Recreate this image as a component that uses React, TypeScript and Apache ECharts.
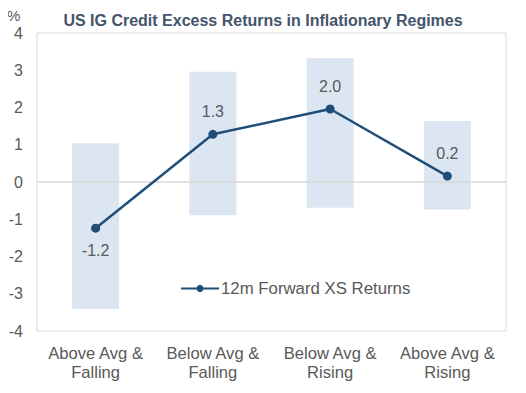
import React, { useEffect, useRef } from "react";
import * as echarts from "echarts";

const categories = ["Above Avg &\nFalling", "Below Avg &\nFalling", "Below Avg &\nRising", "Above Avg &\nRising"];
const rangeHigh = [1.04, 2.96, 3.33, 1.64];
const rangeLow = [-3.41, -0.89, -0.69, -0.74];
const xsReturns = [-1.24, 1.28, 1.96, 0.16];
const yTicks = [-4, -3, -2, -1, 0, 1, 2, 3, 4];

const FONT = "'Liberation Sans', Arial, sans-serif";
const BAR = "#dce6f2";
const LINE = "#1f4e79";
const TXT = "#595959";

export default function App() {
  const ref = useRef<HTMLDivElement>(null);
  useEffect(() => {
    if (!ref.current) return;
    const chart = echarts.init(ref.current, null, { renderer: "svg" });
    chart.setOption({
      animation: false,
      backgroundColor: "#ffffff",
      textStyle: { fontFamily: FONT },
      title: {
        text: "US IG Credit Excess Returns in Inflationary Regimes",
        left: 258,
        textAlign: "center",
        top: 7,
        textStyle: {
          fontFamily: "'Liberation Sans Narrow', 'Arial Narrow', 'Liberation Sans', sans-serif",
          fontWeight: "bold",
          fontSize: 16,
          color: "#44546a",
        },
      },
      graphic: [
        {
          type: "text",
          left: 7,
          top: 8,
          style: { text: "%", fontFamily: FONT, fontSize: 15, fill: TXT },
        },
      ],
      legend: {
        data: ["12m Forward XS Returns"],
        left: 175,
        top: 275,
        itemWidth: 38,
        itemHeight: 9,
        itemGap: 2,
        textStyle: { fontFamily: FONT, fontSize: 16.8, color: TXT, padding: [0, 0, 0, -3] },
      },
      grid: {
        left: 37,
        right: 20,
        top: 33,
        bottom: 62,
        show: true,
        borderColor: "#d9d9d9",
        borderWidth: 1,
      },
      xAxis: {
        type: "category",
        data: categories,
        axisLine: { show: false },
        axisTick: { show: false },
        axisLabel: {
          color: TXT,
          fontSize: 16.6,
          fontFamily: FONT,
          lineHeight: 19,
          margin: 13,
          interval: 0,
        },
      },
      yAxis: {
        type: "value",
        min: yTicks[0],
        max: yTicks[yTicks.length - 1],
        interval: 1,
        splitLine: { show: false },
        axisLine: { show: false },
        axisTick: { show: false },
        axisLabel: { color: TXT, fontSize: 16, fontFamily: FONT, margin: 14 },
      },
      series: [
        {
          name: "High",
          type: "bar",
          data: rangeHigh,
          barWidth: 47,
          barGap: "-100%",
          itemStyle: { color: BAR },
          silent: true,
        },
        {
          name: "Low",
          type: "bar",
          data: rangeLow,
          barWidth: 47,
          barGap: "-100%",
          itemStyle: { color: BAR },
          silent: true,
        },
        {
          name: "12m Forward XS Returns",
          type: "line",
          data: xsReturns.map((v) => ({
            value: v,
            label: { position: v < 0 ? "bottom" : "top" },
          })),
          symbol: "circle",
          symbolSize: 9,
          lineStyle: { color: LINE, width: 2.5 },
          itemStyle: { color: LINE },
          label: {
            show: true,
            distance: 10,
            color: TXT,
            fontSize: 16,
            fontFamily: FONT,
            formatter: (p: any) => Number(p.value).toFixed(1),
          },
          markLine: {
            silent: true,
            symbol: ["none", "none"],
            label: { show: false },
            lineStyle: { color: "#d9d9d9", width: 1.5, type: "solid" },
            data: [{ yAxis: 0 }],
          },
          z: 5,
        },
      ],
    });
    return () => chart.dispose();
  }, []);
  return <div ref={ref} style={{ width: 526, height: 393, margin: -8 }} />;
}
